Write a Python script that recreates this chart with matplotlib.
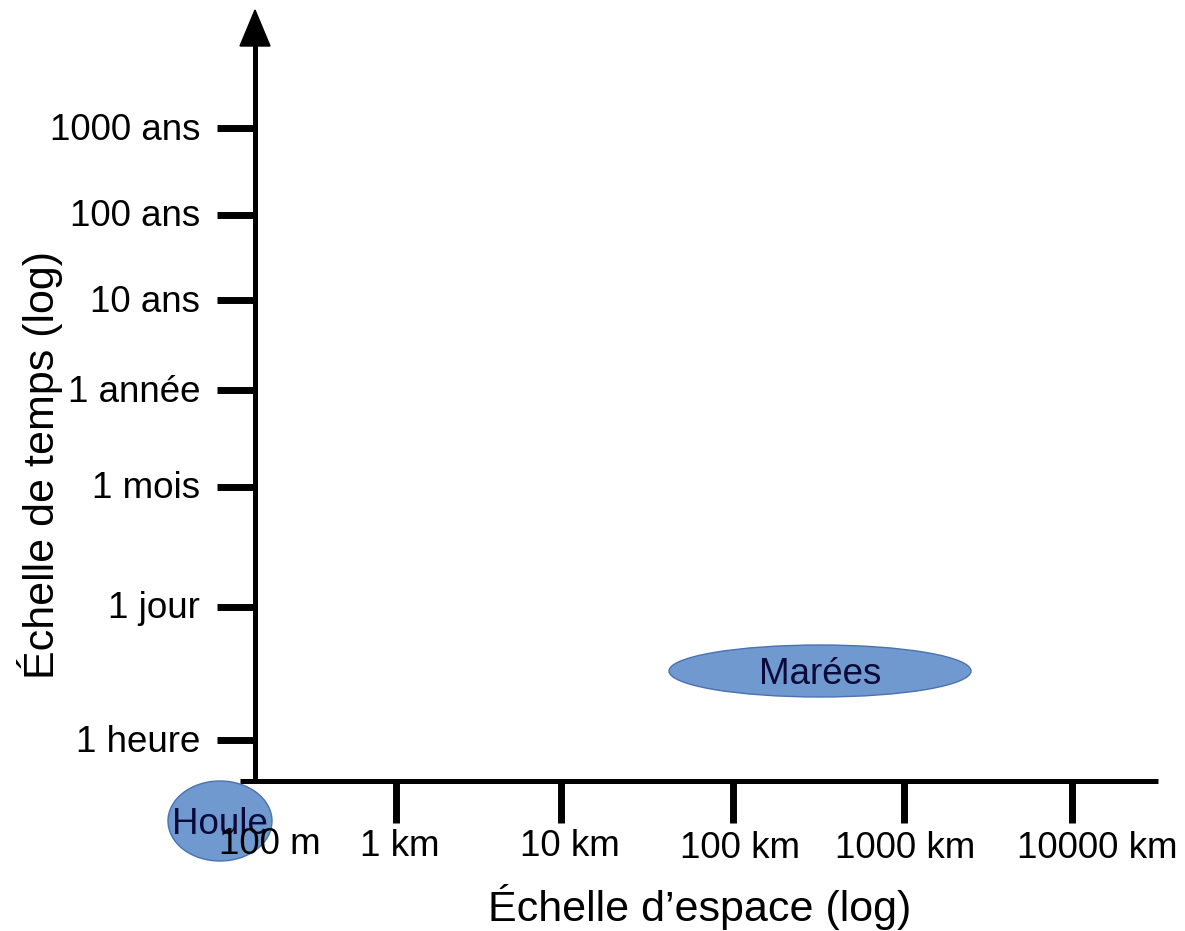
import matplotlib
matplotlib.use("Agg")
import matplotlib.pyplot as plt
from matplotlib.patches import Ellipse

plt.rcParams['font.family'] = ['Liberation Sans', 'DejaVu Sans']

# Time scale ticks (labels and vertical positions on the schematic axis)
time_labels = ["1000 ans", "100 ans", "10 ans", "1 année", "1 mois", "1 jour", "1 heure"]
time_pos = [128, 215, 300, 390, 487, 607, 740]

# Space scale ticks
space_labels = ["100 m", "1 km", "10 km", "100 km", "1000 km", "10000 km"]
space_pos = [255, 396, 561, 733, 904, 1072]
space_label_x = [270, 400, 570, 740, 905, 1097]
space_label_y = [843, 845, 845, 848, 848, 848]

# Phenomena (centre x, centre y, width, height)
phen_names = ["Houle", "Marées"]
phen_x = [220, 820]
phen_y = [821, 671]
phen_w = [104, 302]
phen_h = [80, 52]

fig = plt.figure(figsize=(11.85, 9.31), dpi=100)
ax = fig.add_axes([0, 0, 1, 1])
ax.set_xlim(0, 1185)
ax.set_ylim(931, 0)
ax.axis("off")

x0, y0 = 255, 781
# axes lines
ax.plot([x0, x0], [y0 + 2, 40], color="black", lw=3.6, solid_capstyle="butt")
ax.fill([x0, x0 - 15, x0 + 15], [10, 46, 46], color="black")
ax.plot([240, 1158], [y0, y0], color="black", lw=3.6, solid_capstyle="butt")

FS = 26.5
# y ticks
for lab, p in zip(time_labels, time_pos):
    ax.plot([217, x0], [p, p], color="black", lw=5, solid_capstyle="butt")
    ax.text(200, p + 2, lab, ha="right", va="center", fontsize=FS, color="black")

# x ticks
for i, (lab, p) in enumerate(zip(space_labels, space_pos)):
    if i > 0:
        ax.plot([p, p], [y0, 823], color="black", lw=5, solid_capstyle="butt")

# ellipses
for n, cx, cy, w, h in zip(phen_names, phen_x, phen_y, phen_w, phen_h):
    ax.add_patch(Ellipse((cx, cy), w, h, facecolor="#7099CF", edgecolor="#4A72B0", lw=1, zorder=3))
    ax.text(cx, cy + 3, n, ha="center", va="center", fontsize=FS, color="#0B0B3B", zorder=4)

for lab, lx, ly in zip(space_labels, space_label_x, space_label_y):
    ax.text(lx, ly + 1, lab, ha="center", va="center", fontsize=FS, color="black", zorder=5)

ax.text(700, 907, "Échelle d’espace (log)", ha="center", va="center", fontsize=31, color="black")
ax.text(40, 465, "Échelle de temps (log)", ha="center", va="center", rotation=90, fontsize=31, color="black")

fig.savefig("out.png", dpi=100)
